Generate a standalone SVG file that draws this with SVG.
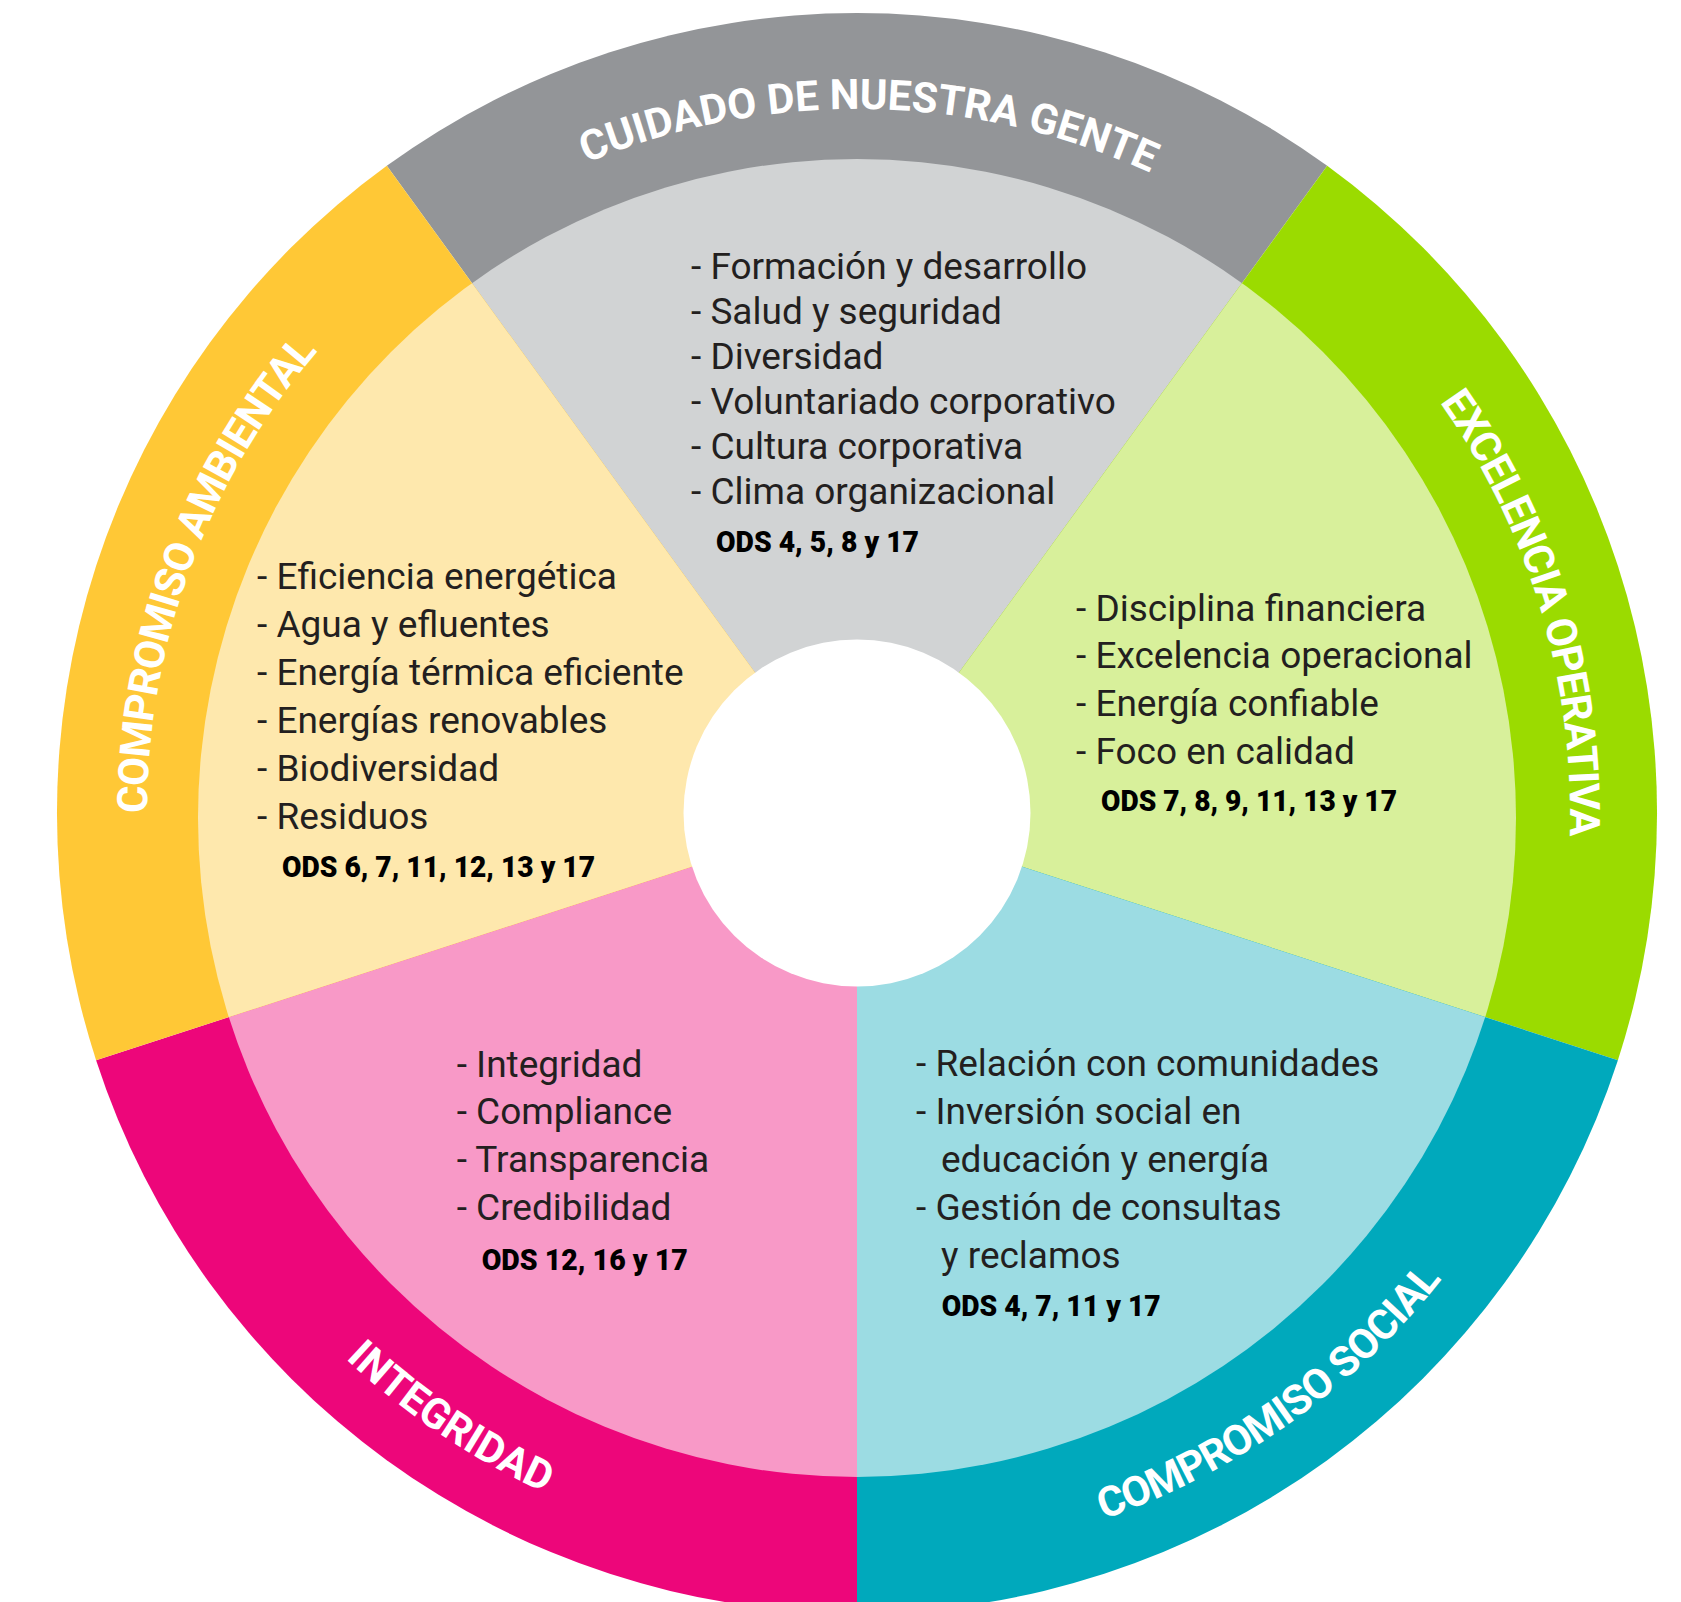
<svg xmlns="http://www.w3.org/2000/svg" width="1681" height="1602" viewBox="0 0 1681 1602">
<defs>
<style>
.item{font-family:Roboto,"Noto Sans",sans-serif;font-size:37px;fill:#231f20}
.ods{font-family:Roboto,"Noto Sans",sans-serif;font-size:29px;font-weight:900;fill:#000}
.ring{font-family:Roboto,"DejaVu Sans",sans-serif;font-size:42px;font-weight:700;fill:#fff}
</style>
<clipPath id="inner"><circle cx="857" cy="818" r="659"/></clipPath>
<path id="pTop" d="M253.5,450.4 A704,704 0 0 1 1472.7,471.7"/>
<path id="pLeft" d="M311.2,1267 A710,710 0 0 1 736.8,113.2"/>
<path id="pRight" d="M1021,119.1 A713,713 0 0 1 1375.9,1302"/>
<path id="pBL" d="M110.7,762.1 A748,748 0 0 0 1186.1,1484.7"/>
<path id="pBR" d="M544.4,1492.6 A748,748 0 0 0 1601.8,743.9"/>
</defs>
<rect width="1681" height="1602" fill="#fff"/>

<g id="cuidado">
<path d="M857,813 L386.8,165.8 A800,800 0 0 1 1327.2,165.8 Z" fill="#939598"/>
<path d="M857,813 L386.8,165.8 A800,800 0 0 1 1327.2,165.8 Z" fill="#d1d3d4" clip-path="url(#inner)"/>
<text class="ring"><textPath href="#pTop" startOffset="50%" text-anchor="middle">CUIDADO DE NUESTRA GENTE</textPath></text>
<text class="item" x="691" y="279">- Formación y desarrollo</text>
<text class="item" x="691" y="323.9">- Salud y seguridad</text>
<text class="item" x="691" y="368.8">- Diversidad</text>
<text class="item" x="691" y="413.7">- Voluntariado corporativo</text>
<text class="item" x="691" y="458.6">- Cultura corporativa</text>
<text class="item" x="691" y="503.5">- Clima organizacional</text>
<text class="ods" x="716" y="552" textLength="203" lengthAdjust="spacingAndGlyphs">ODS 4, 5, 8 y 17</text>
</g>

<g id="excelencia">
<path d="M857,813 L1327.2,165.8 A800,800 0 0 1 1617.9,1060.2 Z" fill="#9bdb00"/>
<path d="M857,813 L1327.2,165.8 A800,800 0 0 1 1617.9,1060.2 Z" fill="#d8f09b" clip-path="url(#inner)"/>
<text class="ring" letter-spacing="-1"><textPath href="#pRight" startOffset="50%" text-anchor="middle">EXCELENCIA OPERATIVA</textPath></text>
<text class="item" x="1076" y="620.5">- Disciplina financiera</text>
<text class="item" x="1076" y="668.3">- Excelencia operacional</text>
<text class="item" x="1076" y="716">- Energía confiable</text>
<text class="item" x="1076" y="764">- Foco en calidad</text>
<text class="ods" x="1101" y="810.7" textLength="296" lengthAdjust="spacingAndGlyphs">ODS 7, 8, 9, 11, 13 y 17</text>
</g>

<g id="social">
<path d="M857,813 L1617.9,1060.2 A800,800 0 0 1 857,1613 Z" fill="#00a9bc"/>
<path d="M857,813 L1617.9,1060.2 A800,800 0 0 1 857,1613 Z" fill="#9cdce3" clip-path="url(#inner)"/>
<text class="ring" letter-spacing="-1"><textPath href="#pBR" startOffset="50%" text-anchor="middle">COMPROMISO SOCIAL</textPath></text>
<text class="item" x="916" y="1076">- Relación con comunidades</text>
<text class="item" x="916" y="1124">- Inversión social en</text>
<text class="item" x="941" y="1171.7">educación y energía</text>
<text class="item" x="916" y="1220">- Gestión de consultas</text>
<text class="item" x="941" y="1268.3">y reclamos</text>
<text class="ods" x="941.7" y="1316" textLength="219" lengthAdjust="spacingAndGlyphs">ODS 4, 7, 11 y 17</text>
</g>

<g id="integridad">
<path d="M857,813 L857,1613 A800,800 0 0 1 96.1,1060.2 Z" fill="#ed067a"/>
<path d="M857,813 L857,1613 A800,800 0 0 1 96.1,1060.2 Z" fill="#f899c7" clip-path="url(#inner)"/>
<text class="ring"><textPath href="#pBL" startOffset="50%" text-anchor="middle">INTEGRIDAD</textPath></text>
<text class="item" x="456.7" y="1076.5">- Integridad</text>
<text class="item" x="456.7" y="1124">- Compliance</text>
<text class="item" x="456.7" y="1172">- Transparencia</text>
<text class="item" x="456.7" y="1220">- Credibilidad</text>
<text class="ods" x="481.7" y="1270" textLength="206" lengthAdjust="spacingAndGlyphs">ODS 12, 16 y 17</text>
</g>

<g id="ambiental">
<path d="M857,813 L96.1,1060.2 A800,800 0 0 1 386.8,165.8 Z" fill="#ffc836"/>
<path d="M857,813 L96.1,1060.2 A800,800 0 0 1 386.8,165.8 Z" fill="#fee8ad" clip-path="url(#inner)"/>
<text class="ring" letter-spacing="-1"><textPath href="#pLeft" startOffset="50%" text-anchor="middle">COMPROMISO AMBIENTAL</textPath></text>
<text class="item" x="257" y="589">- Eficiencia energética</text>
<text class="item" x="257" y="637">- Agua y efluentes</text>
<text class="item" x="257" y="685">- Energía térmica eficiente</text>
<text class="item" x="257" y="733">- Energías renovables</text>
<text class="item" x="257" y="781">- Biodiversidad</text>
<text class="item" x="257" y="829">- Residuos</text>
<text class="ods" x="282" y="877" textLength="313" lengthAdjust="spacingAndGlyphs">ODS 6, 7, 11, 12, 13 y 17</text>
</g>

<g id="centro">
<circle cx="857" cy="813" r="173.5" fill="#fff"/>
</g>
</svg>
